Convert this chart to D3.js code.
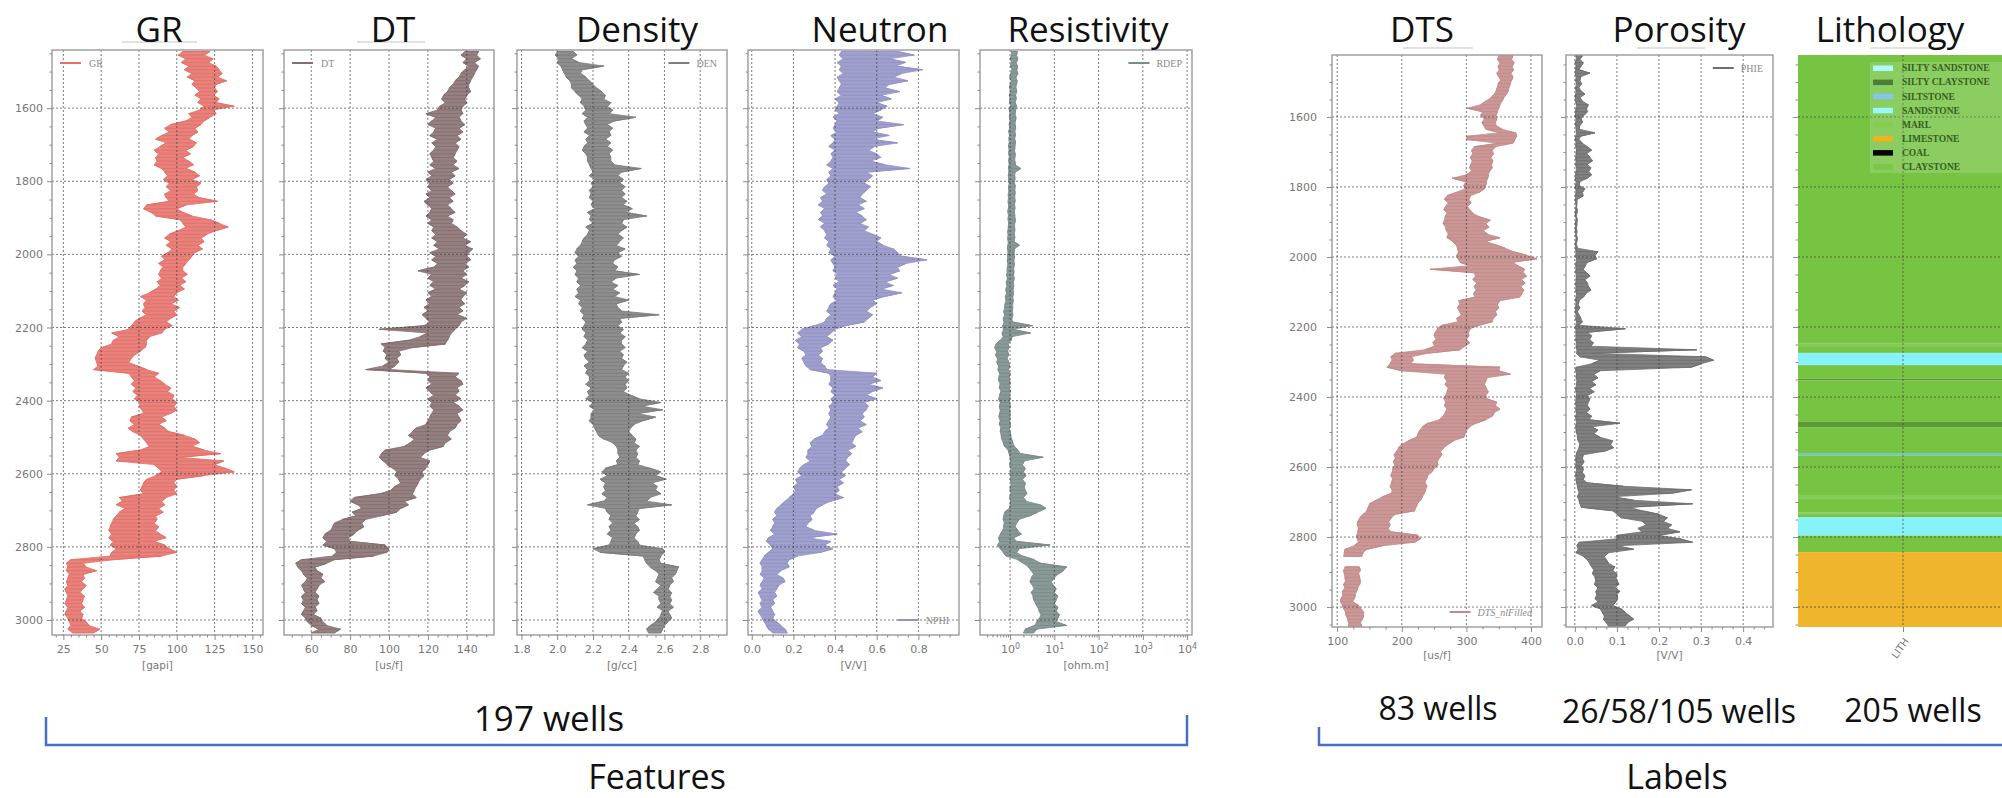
<!DOCTYPE html>
<html>
<head>
<meta charset="utf-8">
<script src="https://cdn.jsdelivr.net/npm/d3@7"></script>
<style>
  html, body { margin: 0; padding: 0; background: #ffffff; }
  svg { display: block; }
</style>
</head>
<body>
<svg id="chart" width="2002" height="798"></svg>
<script>
// ------------------------------------------------------------------
// Well-log data. Each curve is stored as a min/max envelope per 10 m
// depth sample (the display decimation of the raw log).
// Feature logs: samples at 1445, 1455, ... 3035 m (160 samples)
// Label logs:   samples at 1425, 1435, ... 3055 m (164 samples)
// ------------------------------------------------------------------

const TRACK_TITLES = ["GR", "DT", "Density", "Neutron", "Resistivity", "DTS", "Porosity", "Lithology"];
const CURVE_NAMES  = ["GR", "DT", "DEN", "NPHI", "RDEP", "DTS_nlFilled", "PHIE"];
const UNITS        = ["[gapi]", "[us/f]", "[g/cc]", "[V/V]", "[ohm.m]", "[us/f]", "[V/V]"];

const DEPTH_TICKS = [1600, 1800, 2000, 2200, 2400, 2600, 2800, 3000];
const GR_TICKS    = [25, 50, 75, 100, 125, 150];
const DT_TICKS    = [60, 80, 100, 120, 140];
const DEN_TICKS   = [1.8, 2.0, 2.2, 2.4, 2.6, 2.8];
const NPHI_TICKS  = [0.0, 0.2, 0.4, 0.6, 0.8];
const RDEP_TICKS  = [1, 10, 100, 1000, 10000];
const DTS_TICKS   = [100, 200, 300, 400];
const PHIE_TICKS  = [0.0, 0.1, 0.2, 0.3, 0.4];

const GR_LO = [
  104,101,106,103,108,105,110,107,112,110,
  113,115,112,116,114,118,115,108,110,106,
  96,92,95,90,86,93,89,85,88,86,
  87,85,90,92,94,91,95,93,96,92,
  93,95,80,78,83,86,102,104,106,101,
  95,92,96,93,97,94,90,92,88,91,
  89,88,90,87,89,86,82,76,80,78,
  79,77,80,75,72,70,68,57,62,58,
  57,50,48,47,46,47,48,45,68,70,
  72,70,73,71,74,72,76,75,77,78,
  70,69,72,68,71,76,78,80,82,76,
  60,62,60,85,88,90,86,80,78,77,
  76,78,62,64,60,66,62,60,58,57,
  56,55,57,55,58,56,60,57,56,30,
  27,28,27,29,28,27,28,26,27,28,
  27,26,28,27,26,28,29,30,28,31];
const GR_HI = [
  122,118,124,121,126,128,130,127,133,126,
  125,127,124,128,126,138,124,126,122,118,
  116,112,114,110,108,113,111,106,109,104,
  108,111,106,112,115,110,116,113,114,111,
  115,127,106,100,104,110,122,128,134,126,
  120,116,118,114,117,112,110,108,106,104,
  104,107,103,106,102,105,100,98,101,96,
  102,98,100,96,93,97,92,90,82,80,
  80,79,76,72,70,68,74,80,88,85,
  89,92,96,94,98,97,100,98,100,96,
  90,93,88,92,95,105,112,115,110,118,
  129,102,131,125,132,138,118,100,98,100,
  98,100,93,90,92,88,91,86,87,85,
  88,86,89,93,85,92,95,100,90,58,
  38,40,47,38,39,37,40,38,36,39,
  38,37,39,36,38,37,40,42,49,45];

const DT_LO = [
  139,137,140,138,141,139,137,136,134,133,
  131,130,128,127,129,126,125,119,124,122,
  120,124,123,121,125,122,124,123,121,122,
  123,121,124,120,122,119,121,120,122,119,
  121,118,120,122,121,119,122,120,123,122,
  124,122,125,123,126,121,124,122,125,123,
  115,122,120,123,121,124,120,122,119,121,
  118,120,117,119,121,118,95,120,116,110,
  96,98,97,99,98,100,97,88,119,121,
  120,122,119,121,123,120,122,121,123,122,
  121,120,119,114,112,110,113,111,108,98,
  96,95,97,99,102,104,103,105,106,103,
  101,95,82,80,84,86,81,83,76,72,
  71,70,67,66,68,66,72,73,71,55,
  52,53,55,56,58,57,55,56,57,55,
  56,55,57,56,55,57,58,60,64,60];
const DT_HI = [
  146,145,147,144,146,145,144,143,142,141,
  141,142,140,139,140,138,137,138,136,137,
  139,136,138,135,137,134,136,135,134,133,
  135,133,136,132,134,131,133,130,132,134,
  131,133,130,132,134,130,133,132,135,137,
  140,138,142,139,143,141,140,142,139,141,
  138,140,137,141,139,136,140,138,137,139,
  136,138,135,140,137,136,134,132,131,130,
  129,112,105,106,104,105,103,100,136,134,
  137,138,135,136,134,137,133,136,138,135,
  136,137,135,134,131,130,132,129,128,121,
  118,116,121,120,119,117,118,116,115,114,
  113,112,114,108,110,106,104,96,88,86,
  87,84,82,79,80,98,100,99,92,72,
  68,62,63,66,65,67,64,63,62,64,
  63,64,62,63,61,65,66,68,75,72];

const DEN_LO = [
  2.00,1.99,2.01,2.00,2.02,2.03,2.04,2.05,2.07,2.08,
  2.08,2.10,2.12,2.14,2.13,2.15,2.16,2.14,2.17,2.15,
  2.16,2.17,2.15,2.18,2.16,2.17,2.15,2.14,2.16,2.17,
  2.17,2.18,2.19,2.20,2.18,2.21,2.19,2.20,2.18,2.19,
  2.18,2.20,2.19,2.21,2.17,2.19,2.18,2.20,2.16,2.18,
  2.17,2.15,2.14,2.13,2.11,2.10,2.12,2.10,2.11,2.09,
  2.11,2.10,2.12,2.11,2.13,2.11,2.12,2.10,2.13,2.12,
  2.14,2.13,2.15,2.14,2.16,2.15,2.14,2.16,2.15,2.17,
  2.16,2.14,2.17,2.15,2.16,2.18,2.15,2.17,2.16,2.18,
  2.18,2.16,2.19,2.17,2.18,2.16,2.20,2.18,2.21,2.19,
  2.19,2.18,2.20,2.21,2.22,2.23,2.26,2.31,2.33,2.34,
  2.34,2.35,2.33,2.34,2.27,2.25,2.28,2.24,2.27,2.26,
  2.27,2.25,2.28,2.26,2.17,2.27,2.28,2.30,2.29,2.31,
  2.29,2.30,2.28,2.31,2.30,2.29,2.20,2.24,2.48,2.49,
  2.50,2.52,2.55,2.57,2.56,2.55,2.58,2.56,2.54,2.57,
  2.57,2.58,2.56,2.59,2.58,2.57,2.55,2.52,2.50,2.51];
const DEN_HI = [
  2.09,2.11,2.08,2.12,2.26,2.14,2.13,2.16,2.18,2.20,
  2.22,2.25,2.27,2.26,2.30,2.28,2.31,2.29,2.44,2.32,
  2.28,2.31,2.29,2.30,2.27,2.30,2.28,2.31,2.29,2.30,
  2.30,2.32,2.47,2.36,2.34,2.37,2.35,2.38,2.36,2.38,
  2.36,2.39,2.37,2.42,2.38,2.50,2.37,2.36,2.39,2.36,
  2.34,2.37,2.35,2.33,2.38,2.34,2.36,2.32,2.31,2.34,
  2.32,2.46,2.33,2.30,2.34,2.31,2.35,2.32,2.40,2.33,
  2.34,2.36,2.57,2.35,2.36,2.34,2.37,2.35,2.38,2.36,
  2.36,2.38,2.35,2.37,2.36,2.39,2.37,2.36,2.40,2.38,
  2.40,2.38,2.39,2.37,2.41,2.46,2.58,2.47,2.59,2.45,
  2.55,2.48,2.43,2.41,2.40,2.42,2.44,2.43,2.46,2.44,
  2.45,2.44,2.46,2.45,2.52,2.58,2.55,2.61,2.53,2.56,
  2.55,2.58,2.52,2.50,2.64,2.46,2.45,2.44,2.46,2.43,
  2.45,2.46,2.44,2.43,2.45,2.46,2.59,2.60,2.58,2.57,
  2.58,2.68,2.67,2.66,2.64,2.65,2.63,2.62,2.64,2.63,
  2.64,2.63,2.65,2.62,2.63,2.64,2.62,2.60,2.59,2.58];

const NPHI_LO = [
  0.43,0.42,0.44,0.41,0.43,0.42,0.44,0.41,0.42,0.43,
  0.42,0.41,0.43,0.40,0.42,0.41,0.40,0.42,0.39,0.41,
  0.40,0.39,0.41,0.38,0.40,0.39,0.37,0.40,0.38,0.39,
  0.38,0.36,0.39,0.37,0.38,0.36,0.37,0.35,0.34,0.36,
  0.33,0.34,0.32,0.35,0.33,0.34,0.32,0.35,0.33,0.35,
  0.36,0.35,0.37,0.36,0.38,0.37,0.40,0.38,0.39,0.40,
  0.39,0.41,0.40,0.42,0.39,0.41,0.40,0.39,0.41,0.38,
  0.37,0.36,0.38,0.36,0.35,0.30,0.24,0.22,0.24,0.21,
  0.23,0.22,0.25,0.26,0.24,0.25,0.26,0.28,0.37,0.38,
  0.38,0.37,0.39,0.38,0.40,0.38,0.39,0.37,0.38,0.37,
  0.38,0.37,0.36,0.37,0.35,0.34,0.30,0.28,0.29,0.27,
  0.27,0.26,0.28,0.25,0.23,0.22,0.24,0.21,0.22,0.20,
  0.21,0.20,0.18,0.16,0.14,0.12,0.11,0.12,0.10,0.11,
  0.10,0.09,0.11,0.08,0.07,0.09,0.10,0.08,0.06,0.05,
  0.04,0.05,0.05,0.04,0.06,0.05,0.04,0.05,0.03,0.04,
  0.05,0.04,0.05,0.03,0.04,0.05,0.06,0.07,0.08,0.10];
const NPHI_HI = [
  0.70,0.78,0.66,0.74,0.69,0.82,0.72,0.68,0.75,0.66,
  0.64,0.71,0.62,0.67,0.60,0.65,0.62,0.58,0.63,0.60,
  0.73,0.61,0.58,0.66,0.57,0.70,0.59,0.56,0.60,0.62,
  0.57,0.64,0.76,0.55,0.58,0.56,0.54,0.57,0.55,0.53,
  0.52,0.55,0.51,0.54,0.50,0.53,0.55,0.52,0.56,0.54,
  0.58,0.62,0.60,0.63,0.68,0.70,0.72,0.84,0.74,0.70,
  0.71,0.66,0.70,0.64,0.68,0.62,0.72,0.64,0.58,0.60,
  0.57,0.55,0.58,0.56,0.54,0.45,0.40,0.38,0.36,0.39,
  0.37,0.33,0.34,0.32,0.34,0.33,0.35,0.36,0.60,0.58,
  0.62,0.56,0.63,0.58,0.55,0.60,0.54,0.56,0.55,0.53,
  0.54,0.52,0.55,0.51,0.53,0.50,0.49,0.48,0.50,0.46,
  0.48,0.46,0.45,0.47,0.45,0.43,0.45,0.42,0.44,0.41,
  0.42,0.40,0.44,0.38,0.34,0.31,0.30,0.28,0.29,0.27,
  0.26,0.30,0.41,0.27,0.38,0.35,0.39,0.33,0.22,0.18,
  0.17,0.18,0.14,0.12,0.15,0.16,0.13,0.12,0.11,0.12,
  0.10,0.11,0.09,0.10,0.11,0.10,0.12,0.14,0.16,0.17];

const RDEP_LO = [
  1.05,1.10,1.00,1.08,1.02,1.10,1.04,0.98,1.06,1.00,
  0.98,1.02,0.96,1.00,0.97,1.03,0.95,0.99,0.96,1.00,
  0.95,0.98,0.93,0.97,0.94,0.96,0.92,0.95,0.93,0.96,
  0.93,0.95,0.92,0.94,0.91,0.93,0.95,0.92,0.94,0.91,
  0.92,0.90,0.93,0.91,0.89,0.92,0.90,0.93,0.91,0.89,
  0.90,0.88,0.91,0.89,0.87,0.90,0.88,0.86,0.89,0.87,
  0.86,0.84,0.87,0.82,0.85,0.80,0.83,0.78,0.81,0.77,
  0.76,0.72,0.75,0.70,0.73,0.68,0.71,0.66,0.70,0.60,
  0.48,0.45,0.50,0.47,0.52,0.50,0.55,0.53,0.58,0.56,
  0.55,0.60,0.57,0.62,0.58,0.55,0.60,0.57,0.60,0.58,
  0.56,0.60,0.57,0.62,0.60,0.63,0.65,0.70,0.75,0.90,
  0.95,1.00,1.02,0.98,1.05,1.00,1.04,1.00,1.06,1.02,
  1.00,1.05,0.98,1.02,1.00,0.96,0.75,0.72,0.70,0.74,
  0.72,0.68,0.60,0.55,0.58,0.52,0.60,0.70,0.80,1.50,
  2.0,2.6,3.0,3.4,3.0,2.8,3.2,3.5,3.0,3.3,
  3.4,3.8,4.2,4.5,5.0,4.6,4.0,3.6,2.2,2.0];
const RDEP_HI = [
  1.45,1.40,1.50,1.38,1.48,1.42,1.50,1.36,1.44,1.40,
  1.35,1.42,1.33,1.38,1.30,1.40,1.34,1.30,1.36,1.32,
  1.30,1.34,1.28,1.32,1.27,1.33,1.29,1.26,1.31,1.28,
  1.28,1.32,1.75,1.30,1.27,1.29,1.26,1.31,1.28,1.30,
  1.27,1.30,1.26,1.29,1.25,1.28,1.32,1.27,1.26,1.28,
  1.25,1.28,1.24,1.62,1.26,1.23,1.27,1.22,1.25,1.21,
  1.22,1.20,1.24,1.18,1.21,1.17,1.20,1.15,1.18,1.14,
  1.15,1.12,1.16,1.10,1.14,3.20,1.12,2.90,1.10,1.06,
  0.90,0.95,0.88,0.93,0.86,0.94,0.98,0.92,1.00,0.96,
  0.98,1.00,0.95,1.02,0.97,1.00,0.96,1.02,0.98,1.00,
  1.00,0.98,1.02,0.97,1.00,1.04,1.08,1.15,1.25,1.50,
  1.7,5.6,2.1,1.9,2.2,2.0,2.3,1.9,2.2,2.1,
  2.2,2.4,2.0,2.3,4.8,6.5,4.2,2.8,1.6,1.4,
  1.3,1.5,1.8,1.2,1.4,8.0,1.6,1.4,1.9,3.5,
  5.0,19,16,12,10,8.5,9.5,11,10,12,
  11,10,12,11,13,12,11,19,4.0,3.4];

const DTS_LO = [
  350,348,352,349,351,347,350,353,349,348,
  346,343,338,330,322,301,325,322,328,324,
  327,330,352,301,301,350,312,308,310,306,
  309,307,305,308,300,278,299,296,298,285,
  270,266,272,268,265,270,267,266,264,268,
  269,272,270,278,284,286,288,285,287,290,
  305,244,312,314,310,316,312,315,311,313,
  288,290,286,289,292,285,287,262,255,252,
  250,253,248,251,236,190,183,185,182,177,
  200,268,266,270,267,272,270,268,265,268,
  266,270,267,264,258,240,232,228,225,223,
  210,200,195,192,188,190,187,189,186,185,
  183,186,184,182,185,184,170,160,150,148,
  146,140,135,132,131,133,132,130,131,133,
  126,112,111,110,null,null,112,110,111,112,
  113,110,112,108,109,106,105,108,110,113,
  114,116,118,117];
const DTS_HI = [
  372,370,374,371,373,369,372,370,368,366,
  365,362,358,355,352,350,348,346,347,345,
  346,355,376,378,375,372,345,340,342,338,
  341,339,340,336,334,333,331,330,328,320,
  306,304,307,302,305,310,320,337,330,335,
  326,333,352,330,345,360,373,393,409,372,
  380,390,388,393,385,391,384,389,386,382,
  352,348,350,345,347,342,340,320,306,303,
  304,300,305,298,290,240,215,218,214,352,
  350,368,332,330,328,331,334,330,332,347,
  345,352,343,340,330,315,305,300,298,296,
  280,272,265,260,262,258,255,256,250,246,
  240,238,236,239,237,235,232,229,224,222,
  220,190,184,180,182,179,183,225,229,220,
  170,146,140,138,null,null,134,136,133,135,
  136,135,132,130,128,127,124,133,137,141,
  141,139,136,138];

const PHIE_LO = [
  0.002,0.004,0.001,0.003,0.002,0.001,0.003,0.002,0.004,0.002,
  0.003,0.002,0.001,0.002,0.004,0.003,0.002,0.001,0.003,0.002,
  0.002,0.003,0.004,0.002,0.001,0.003,0.002,0.004,0.003,0.002,
  0.003,0.002,0.004,0.003,0.002,0.001,0.003,0.002,0.002,0.003,
  0.002,0.001,0.002,0.003,0.002,0.001,0.002,0.003,0.001,0.002,
  0.001,0.002,0.003,0.002,0.001,0.002,0.003,0.002,0.004,0.003,
  0.002,0.003,0.002,0.004,0.003,0.002,0.003,0.002,0.004,0.003,
  0.002,0.003,0.002,0.001,0.003,0.002,0.004,0.003,0.002,0.003,
  0.003,0.002,0.004,0.003,0.005,0.004,0.012,0.060,0.040,0.003,
  0.002,0.004,0.003,0.005,0.004,0.002,0.003,0.004,0.003,0.002,
  0.003,0.002,0.004,0.002,0.003,0.004,0.002,0.003,0.005,0.006,
  0.008,0.012,0.010,0.006,0.003,0.002,0.003,0.002,0.004,0.003,
  0.002,0.003,0.004,0.006,0.008,0.010,0.006,0.010,0.012,0.015,
  0.090,0.100,0.110,0.160,0.170,0.150,0.160,0.100,0.100,0.010,
  0.005,0.008,0.003,0.020,0.030,0.035,0.040,0.045,0.042,0.048,
  0.050,0.046,0.055,0.050,0.052,0.048,0.055,0.040,0.060,0.065,
  0.070,0.068,0.075,0.080];
const PHIE_HI = [
  0.018,0.012,0.020,0.015,0.010,0.036,0.014,0.012,0.016,0.010,
  0.014,0.024,0.012,0.018,0.032,0.028,0.030,0.022,0.015,0.018,
  0.012,0.010,0.048,0.014,0.010,0.018,0.030,0.040,0.028,0.036,
  0.042,0.030,0.038,0.033,0.040,0.030,0.012,0.010,0.024,0.018,
  0.020,0.006,0.005,0.004,0.006,0.005,0.004,0.006,0.005,0.004,
  0.005,0.004,0.006,0.005,0.004,0.006,0.055,0.048,0.052,0.030,
  0.025,0.020,0.028,0.036,0.024,0.030,0.033,0.038,0.026,0.020,
  0.010,0.008,0.012,0.006,0.010,0.014,0.018,0.010,0.120,0.030,
  0.040,0.035,0.044,0.038,0.290,0.040,0.310,0.330,0.300,0.277,
  0.060,0.045,0.055,0.040,0.050,0.035,0.046,0.030,0.036,0.032,
  0.030,0.036,0.028,0.040,0.034,0.107,0.040,0.055,0.045,0.060,
  0.090,0.085,0.092,0.070,0.020,0.018,0.022,0.016,0.020,0.018,
  0.024,0.020,0.028,0.115,0.277,0.230,0.090,0.140,0.280,0.130,
  0.160,0.200,0.220,0.210,0.230,0.220,0.250,0.200,0.250,0.280,
  0.100,0.140,0.080,0.070,0.075,0.080,0.095,0.090,0.100,0.098,
  0.100,0.105,0.095,0.107,0.100,0.102,0.098,0.090,0.110,0.120,
  0.130,0.140,0.125,0.118];

// Lithology intervals (top / base depth and facies)
const LITH_TOP  = [1423, 2246, 2257, 2274, 2309, 2348, 2353, 2471, 2486, 2560, 2568, 2680, 2689, 2729, 2737, 2743, 2796, 2843];
const LITH_BASE = [2246, 2257, 2274, 2309, 2348, 2353, 2471, 2486, 2560, 2568, 2680, 2689, 2729, 2737, 2743, 2796, 2843, 3057];
const LITH_CODE = ["CLAYSTONE", "MARL", "CLAYSTONE", "SANDSTONE", "CLAYSTONE", "SILTY CLAYSTONE", "CLAYSTONE",
                   "SILTY CLAYSTONE", "CLAYSTONE", "SILTSTONE", "CLAYSTONE", "MARL", "CLAYSTONE", "MARL",
                   "CLAYSTONE", "SANDSTONE", "CLAYSTONE", "LIMESTONE"];
const LITH_LEGEND = ["SILTY SANDSTONE", "SILTY CLAYSTONE", "SILTSTONE", "SANDSTONE", "MARL", "LIMESTONE", "COAL", "CLAYSTONE"];

const WELL_COUNTS = ["197 wells", "83 wells", "26/58/105 wells", "205 wells"];
const GROUP_NAMES = ["Features", "Labels"];

// ------------------------------------------------------------------
// Styling and layout
// ------------------------------------------------------------------
const LITH_COLORS = {
  "SILTY SANDSTONE": "#9ff6ff",
  "SILTY CLAYSTONE": "#5c9a38",
  "SILTSTONE": "#78c9b4",
  "SANDSTONE": "#86f3fb",
  "MARL": "#84cb58",
  "LIMESTONE": "#efb62d",
  "COAL": "#000000",
  "CLAYSTONE": "#77c443"
};
const LEGEND_PATCH = {
  "SILTY SANDSTONE": "#aef8ff",
  "SILTY CLAYSTONE": "#4f7d3a",
  "SILTSTONE": "#86c4f0",
  "SANDSTONE": "#9af8fa",
  "MARL": "#86cc50",
  "LIMESTONE": "#f2b21c",
  "COAL": "#050505",
  "CLAYSTONE": "#7cc648"
};

const DEPTH_L = d3.range(1445, 3036, 10);
const DEPTH_R = d3.range(1425, 3056, 10);

const tracks = {
  L: { top: 50, bottom: 635, domain: [1441, 3041], depths: DEPTH_L, labelPad: 4 },
  R: { top: 55, bottom: 627, domain: [1423, 3057], depths: DEPTH_R, labelPad: 10 }
};
Object.values(tracks).forEach(t => {
  t.y = d3.scaleLinear().domain(t.domain).range([t.top, t.bottom]);
});

const fmt0 = d3.format("d"), fmt1 = d3.format(".1f");
const panels = [
  { i: 0, track: "L", x0: 52,   x1: 263,  domain: [17.5, 157],      ticks: GR_TICKS,   minor: 5,     fmt: fmt0, color: "#e4716a", lo: GR_LO,   hi: GR_HI,   legend: "tl", depthLabels: true },
  { i: 1, track: "L", x0: 284,  x1: 494,  domain: [46, 154],        ticks: DT_TICKS,   minor: 5,     fmt: fmt0, color: "#86706f", lo: DT_LO,   hi: DT_HI,   legend: "tl" },
  { i: 2, track: "L", x0: 517,  x1: 727,  domain: [1.775, 2.95],    ticks: DEN_TICKS,  minor: 0.05,  fmt: fmt1, color: "#7e7e7e", lo: DEN_LO,  hi: DEN_HI,  legend: "tr" },
  { i: 3, track: "L", x0: 748,  x1: 959,  domain: [-0.018, 0.995],  ticks: NPHI_TICKS, minor: 0.05,  fmt: fmt1, color: "#9393c6", lo: NPHI_LO, hi: NPHI_HI, legend: "br" },
  { i: 4, track: "L", x0: 980,  x1: 1192, domain: [0.209, 12900],   ticks: RDEP_TICKS, log: true,    color: "#7a8c8a", lo: RDEP_LO, hi: RDEP_HI, legend: "tr" },
  { i: 5, track: "R", x0: 1332, x1: 1542, domain: [92, 417],        ticks: DTS_TICKS,  minor: 25,    fmt: fmt0, color: "#c48a8a", lo: DTS_LO,  hi: DTS_HI,  legend: "br", depthLabels: true },
  { i: 6, track: "R", x0: 1566, x1: 1773, domain: [-0.021, 0.471],  ticks: PHIE_TICKS, minor: 0.025, fmt: fmt1, color: "#707070", lo: PHIE_LO, hi: PHIE_HI, legend: "tr" }
];
const lithPanel = { track: "R", x0: 1798, x1: 2008 };

const titleCenters = [159, 393, 637, 880, 1088, 1422, 1679, 1890];

const SMALL_FONT = "'DejaVu Sans', sans-serif";
const SERIF_FONT = "'Liberation Serif', 'DejaVu Serif', serif";
const BIG_FONT = "'Open Sans', 'Noto Sans', sans-serif";
const AXIS_GRAY = "#777";
const GRID_STYLE = { stroke: "#3c3c3c", width: 0.9, dash: "2,2", opacity: 0.75 };

const svg = d3.select("#chart");
const defs = svg.append("defs");

function styleAxis(sel) {
  sel.select(".domain").remove();
  sel.selectAll(".tick line").attr("stroke", "#8a8a8a").attr("stroke-width", 1);
  sel.selectAll(".tick text")
    .attr("fill", AXIS_GRAY)
    .attr("font-family", SMALL_FONT)
    .attr("font-size", 11);
}

function depthMinor(t) {
  return d3.range(Math.ceil(t.domain[0] / 50) * 50, t.domain[1], 50).filter(d => d % 200 !== 0);
}

function drawDepthAxes(g, t, x0, withLabels) {
  g.append("g")
    .attr("transform", `translate(${x0},0)`)
    .call(d3.axisLeft(t.y).tickValues(DEPTH_TICKS).tickSize(5).tickPadding(t.labelPad)
      .tickFormat(withLabels ? fmt0 : ""))
    .call(styleAxis);
  g.append("g")
    .attr("transform", `translate(${x0},0)`)
    .call(d3.axisLeft(t.y).tickValues(depthMinor(t)).tickSize(2.5).tickFormat(""))
    .call(styleAxis);
}

function drawDepthGrid(g, t, x0, x1) {
  g.append("g").selectAll("line").data(DEPTH_TICKS).join("line")
    .attr("x1", x0).attr("x2", x1)
    .attr("y1", d => t.y(d)).attr("y2", d => t.y(d))
    .attr("stroke", GRID_STYLE.stroke).attr("stroke-width", GRID_STYLE.width)
    .attr("stroke-dasharray", GRID_STYLE.dash).attr("opacity", GRID_STYLE.opacity);
}

// ------------------------------------------------------------------
// Log tracks
// ------------------------------------------------------------------
panels.forEach(p => {
  const t = tracks[p.track];
  const x = (p.log ? d3.scaleLog() : d3.scaleLinear()).domain(p.domain).range([p.x0, p.x1]);
  const g = svg.append("g").attr("class", "track");
  const clipId = "clip-" + p.i;
  defs.append("clipPath").attr("id", clipId)
    .append("rect").attr("x", p.x0).attr("y", t.top)
    .attr("width", p.x1 - p.x0).attr("height", t.bottom - t.top);

  const curve = g.append("g").attr("clip-path", `url(#${clipId})`);

  // envelope of the decimated log
  const area = d3.area()
    .defined((d, k) => p.lo[k] != null && p.hi[k] != null)
    .y(d => t.y(d))
    .x0((d, k) => x(p.lo[k]))
    .x1((d, k) => x(p.hi[k]));
  curve.append("path")
    .datum(t.depths)
    .attr("d", area)
    .attr("fill", p.color)
    .attr("fill-opacity", 0.88)
    .attr("stroke", "none");

  // min/max trace: swing from min to max at every sample
  const tracePts = [];
  t.depths.forEach((d, k) => {
    if (p.lo[k] == null || p.hi[k] == null) { tracePts.push(null); return; }
    if (k % 2 === 0) { tracePts.push([p.lo[k], d], [p.hi[k], d]); }
    else { tracePts.push([p.hi[k], d], [p.lo[k], d]); }
  });
  const trace = d3.line()
    .defined(d => d != null)
    .x(d => x(d[0]))
    .y(d => t.y(d[1]));
  curve.append("path")
    .datum(tracePts)
    .attr("d", trace)
    .attr("fill", "none")
    .attr("stroke", p.color)
    .attr("stroke-width", 1)
    .attr("stroke-linejoin", "round");

  // envelope edge
  curve.append("path")
    .datum(t.depths)
    .attr("d", area)
    .attr("fill", "none")
    .attr("stroke", p.color)
    .attr("stroke-width", 0.8);

  // grid (drawn over the curve)
  g.append("g").selectAll("line").data(p.ticks).join("line")
    .attr("x1", d => x(d)).attr("x2", d => x(d))
    .attr("y1", t.top).attr("y2", t.bottom)
    .attr("stroke", GRID_STYLE.stroke).attr("stroke-width", GRID_STYLE.width)
    .attr("stroke-dasharray", GRID_STYLE.dash).attr("opacity", GRID_STYLE.opacity);
  drawDepthGrid(g, t, p.x0, p.x1);

  // frame
  g.append("rect")
    .attr("x", p.x0).attr("y", t.top)
    .attr("width", p.x1 - p.x0).attr("height", t.bottom - t.top)
    .attr("fill", "none").attr("stroke", "#9a9a9a").attr("stroke-width", 1.4);

  // x axis
  const xAxis = d3.axisBottom(x).tickValues(p.ticks).tickSize(5).tickPadding(5);
  if (!p.log) xAxis.tickFormat(p.fmt);
  const ax = g.append("g").attr("transform", `translate(0,${t.bottom})`).call(xAxis).call(styleAxis);
  if (p.log) {
    ax.selectAll(".tick text").text(null).each(function (d) {
      const s = d3.select(this);
      s.append("tspan").text("10");
      s.append("tspan").attr("dy", "-0.45em").attr("font-size", 8).text(Math.round(Math.log10(d)));
    });
  }
  let minorVals;
  if (p.log) {
    minorVals = [];
    [0.1, 1, 10, 100, 1000].forEach(dec => {
      for (let m = 2; m <= 9; m++) {
        const v = dec * m;
        if (v > p.domain[0] && v < p.domain[1]) minorVals.push(v);
      }
    });
  } else {
    const s = p.minor;
    minorVals = d3.range(Math.ceil(p.domain[0] / s) * s, p.domain[1], s)
      .filter(v => !p.ticks.some(tk => Math.abs(tk - v) < s / 10));
  }
  g.append("g").attr("transform", `translate(0,${t.bottom})`)
    .call(d3.axisBottom(x).tickValues(minorVals).tickSize(2.5).tickFormat(""))
    .call(styleAxis);

  // depth axis
  drawDepthAxes(g, t, p.x0, !!p.depthLabels);

  // unit label
  g.append("text")
    .attr("x", (p.x0 + p.x1) / 2)
    .attr("y", t.bottom + (p.track === "L" ? 34 : 32))
    .attr("text-anchor", "middle")
    .attr("font-family", SMALL_FONT).attr("font-size", 10.5)
    .attr("fill", AXIS_GRAY)
    .text(UNITS[p.i]);

  // legend
  const name = CURVE_NAMES[p.i];
  const lg = g.append("g");
  const ly = p.legend === "br" ? t.bottom - 15 : t.top + 13;
  const label = lg.append("text")
    .attr("y", ly).attr("dy", "0.35em")
    .attr("font-family", SERIF_FONT).attr("font-size", 10)
    .attr("font-style", p.i === 5 ? "italic" : "normal")
    .attr("fill", "#8a8a8a")
    .text(name);
  let lx0;
  if (p.legend === "tl") {
    lx0 = p.x0 + 8;
    label.attr("x", lx0 + 29);
  } else {
    label.attr("x", p.x1 - 10).attr("text-anchor", "end");
    const w = label.node().getComputedTextLength();
    lx0 = p.x1 - 10 - w - 28;
  }
  lg.append("line")
    .attr("x1", lx0).attr("x2", lx0 + 21)
    .attr("y1", ly).attr("y2", ly)
    .attr("stroke", p.color).attr("stroke-width", 2);
});

// ------------------------------------------------------------------
// Lithology track
// ------------------------------------------------------------------
(function () {
  const t = tracks[lithPanel.track];
  const g = svg.append("g").attr("class", "lith");
  const xc = d3.scalePoint().domain(["LITH"]).range([lithPanel.x0, lithPanel.x1]).padding(0.5);

  g.selectAll("rect.layer").data(LITH_TOP).join("rect")
    .attr("class", "layer")
    .attr("x", lithPanel.x0)
    .attr("width", lithPanel.x1 - lithPanel.x0)
    .attr("y", d => t.y(d))
    .attr("height", (d, k) => t.y(LITH_BASE[k]) - t.y(d))
    .attr("fill", (d, k) => LITH_COLORS[LITH_CODE[k]]);

  drawDepthGrid(g, t, lithPanel.x0, lithPanel.x1);
  g.append("line")
    .attr("x1", xc("LITH")).attr("x2", xc("LITH"))
    .attr("y1", t.top).attr("y2", t.bottom)
    .attr("stroke", GRID_STYLE.stroke).attr("stroke-width", GRID_STYLE.width)
    .attr("stroke-dasharray", GRID_STYLE.dash).attr("opacity", GRID_STYLE.opacity);

  drawDepthAxes(g, t, lithPanel.x0, false);

  const ax = g.append("g").attr("transform", `translate(0,${t.bottom})`)
    .call(d3.axisBottom(xc).tickSize(5).tickPadding(4))
    .call(styleAxis);
  ax.selectAll(".tick text")
    .attr("text-anchor", "end")
    .attr("dy", "0.35em")
    .attr("transform", "translate(3,12) rotate(-55)")
    .attr("y", 0).attr("x", 0)
    .attr("font-size", 10);

  // legend
  const lx = 1870, ly = 62;
  g.append("rect")
    .attr("x", lx).attr("y", ly).attr("width", 150).attr("height", 111)
    .attr("fill", "#ffffff").attr("fill-opacity", 0.16);
  const rows = g.append("g").selectAll("g").data(LITH_LEGEND).join("g")
    .attr("transform", (d, k) => `translate(${lx + 3},${ly + 6 + k * 14.1})`);
  rows.append("rect")
    .attr("x", 0).attr("y", -2.5).attr("width", 20).attr("height", 5.5)
    .attr("fill", d => LEGEND_PATCH[d]);
  rows.append("text")
    .attr("x", 29).attr("dy", "0.35em")
    .attr("font-family", SERIF_FONT).attr("font-size", 9.5)
    .attr("font-weight", "bold")
    .attr("fill", "#34601f")
    .text(d => d);
})();

// ------------------------------------------------------------------
// Track titles, well counts and group brackets
// ------------------------------------------------------------------
const titleUnder = [[122, 197, 42], [357, 425, 42], [1403, 1473, 48], [1637, 1705, 48], [1870, 1933, 48]];
svg.append("g").selectAll("line").data(titleUnder).join("line")
  .attr("x1", d => d[0]).attr("x2", d => d[1]).attr("y1", d => d[2]).attr("y2", d => d[2])
  .attr("stroke", "#d0d0d0").attr("stroke-width", 2).attr("opacity", 0.6);

svg.append("g").selectAll("text").data(TRACK_TITLES).join("text")
  .attr("x", (d, k) => titleCenters[k])
  .attr("y", 42)
  .attr("text-anchor", "middle")
  .attr("font-family", BIG_FONT).attr("font-size", 35)
  .attr("fill", "#111")
  .text(d => d);

const countPos = [[549, 731, 35], [1438, 720, 32], [1679, 723, 32], [1913, 722, 32]];
svg.append("g").selectAll("text").data(WELL_COUNTS).join("text")
  .attr("x", (d, k) => countPos[k][0])
  .attr("y", (d, k) => countPos[k][1])
  .attr("font-size", (d, k) => countPos[k][2])
  .attr("text-anchor", "middle")
  .attr("font-family", BIG_FONT)
  .attr("fill", "#111")
  .text(d => d);

const groupPos = [[657, 789], [1677, 789]];
svg.append("g").selectAll("text").data(GROUP_NAMES).join("text")
  .attr("x", (d, k) => groupPos[k][0])
  .attr("y", (d, k) => groupPos[k][1])
  .attr("text-anchor", "middle")
  .attr("font-family", BIG_FONT).attr("font-size", 34)
  .attr("fill", "#111")
  .text(d => d);

const brackets = ["M46,717 V745 H1187 V715", "M1319,727 V745 H2010"];
svg.append("g").selectAll("path").data(brackets).join("path")
  .attr("d", d => d)
  .attr("fill", "none")
  .attr("stroke", "#4a6fc2")
  .attr("stroke-width", 2.5);
</script>
</body>
</html>
